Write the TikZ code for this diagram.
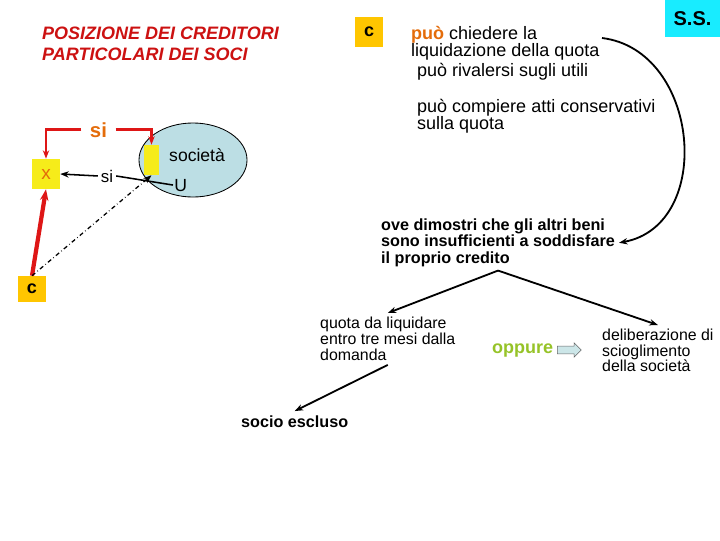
\documentclass[tikz,border=0pt]{standalone}
\usepackage{fontspec}
\setmainfont{Liberation Sans}
\usepackage{tikz}
\usetikzlibrary{positioning}
\usetikzlibrary{arrows.meta}
\usetikzlibrary{shapes.arrows}
\usepackage{xcolor}
\definecolor{titolo}{RGB}{204,17,17}
\definecolor{rosso}{RGB}{222,22,22}
\definecolor{arancio}{RGB}{228,108,10}
\definecolor{giallo}{RGB}{246,236,26}
\definecolor{oro}{RGB}{255,198,0}
\definecolor{ciano}{RGB}{24,236,255}
\definecolor{azzurro}{RGB}{188,222,228}
\definecolor{verde}{RGB}{150,195,40}
\definecolor{frecciaf}{RGB}{204,230,232}

\begin{document}
\begin{tikzpicture}[x=0.025cm, y=-0.025cm, >={Stealth[length=6pt]},
	scritta/.style={align=left, inner sep=0pt, outer sep=3pt, anchor=north west},
	riga/.style={inner sep=0pt, outer sep=3pt, anchor=base west},
	casella/.style={inner sep=0pt, font=\fontsize{12.8}{14}\selectfont\bfseries},
	]
			    		\useasboundingbox (0,0) rectangle (720,540);
			    		\node[scritta, text=titolo, font=\fontsize{12.8}{14.9}\selectfont\bfseries\itshape] (titolo) at (38,23) {POSIZIONE DEI CREDITORI\\PARTICOLARI DEI SOCI};
			    		\node[casella, fill=oro, minimum width=0.7cm, minimum height=0.75cm] (c1) at (369,32) {c};
			    		\node[casella, fill=ciano, minimum width=1.375cm, minimum height=0.925cm, font=\fontsize{14.2}{16}\selectfont\bfseries] (ss) at (692.5,18.5) {S.S.};
			    		\node[scritta, font=\fontsize{12.8}{12}\selectfont] (chiedere) at (407,22) {{\color{arancio}\bfseries può} chiedere la\\liquidazione della quota};
			    		\node[riga, font=\fontsize{12.8}{12}\selectfont] (rivalersi) at (413,76) {può rivalersi sugli utili};
			    		\node[scritta, font=\fontsize{12.8}{12}\selectfont] (compiere) at (413,95) {può compiere atti conservativi\\sulla quota};
			    		\coordinate (inizio) at (602,38);
			    		\node[scritta, font=\fontsize{11.5}{11.4}\selectfont\bfseries] (ove) at (377,215) {ove dimostri che gli altri beni\\sono insufficienti a soddisfare\\il proprio credito};
			    		\node[scritta, font=\fontsize{11.3}{11.3}\selectfont] (quota) at (316,313) {quota da liquidare\\entro tre mesi dalla\\domanda};
			    		\node[scritta, font=\fontsize{11.3}{11}\selectfont] (delib) at (598,325) {deliberazione di\\scioglimento\\della società};
			    		\node[riga, text=verde, font=\fontsize{12.8}{14}\selectfont\bfseries, outer sep=0pt] (oppure) at (492,353) {oppure};
			    		\node[single arrow, draw=black!60, fill=frecciaf, inner xsep=0pt, inner ysep=2.6pt, minimum height=0.6cm, single arrow head extend=0.08cm, right=0.1cm of oppure] (freccia) {};
			    		\node[riga, font=\fontsize{11.5}{14}\selectfont\bfseries] (socio) at (237,427) {socio escluso};
			    		\draw[black, ->, line width=1.3pt] (inizio) .. controls (700,50) and (715,225) .. (ove.east);
			    		\draw[black, ->, line width=1.3pt] (ove.south) -- (quota.north);
			    		\draw[black, ->, line width=1.3pt] (ove.south) -- (delib.north);
			    		\draw[black, ->, line width=1.3pt] (quota.south) -- (socio.north);
			    		\filldraw[fill=azzurro, draw=black, line width=0.6pt] (193,160) ellipse (1.35cm and 0.925cm);
			    		\node[fill=giallo, inner sep=0pt, minimum width=0.375cm, minimum height=0.75cm] (quotasoc) at (151.5,160) {};
			    		\node[riga, font=\fontsize{12.5}{14}\selectfont] (societa) at (165,161) {società};
			    		\node[riga, font=\fontsize{12.5}{14}\selectfont, outer sep=1pt] (U) at (173,191) {U};
			    		\node[fill=giallo, text=arancio, inner sep=0pt, minimum width=0.7cm, minimum height=0.75cm, font=\fontsize{13.5}{14}\selectfont] (X) at (46,174) {x};
			    		\node[casella, fill=oro, minimum width=0.7cm, minimum height=0.65cm] (c2) at (32,289) {c};
			    		\node[text=arancio, inner sep=6pt, anchor=base, font=\fontsize{14.5}{16}\selectfont\bfseries] (si1) at (98.5,137) {si};
			    		\node[inner sep=2pt, anchor=base, font=\fontsize{12}{14}\selectfont] (si2) at (107,182) {si};
			    		\draw[rosso, ->, line width=2pt] (si1.west) -| (X.north);
			    		\draw[rosso, ->, line width=2pt] (si1.east) -| (quotasoc.north);
			    		\draw[black, line width=1.1pt] (U.west) -- (si2.east);
			    		\draw[black, ->, line width=1.1pt] (si2.west) -- (X.east);
			    		\draw[rosso, -{Stealth[length=8pt]}, line width=3pt] (c2.north) -- (X.south);
			    		\draw[black, ->, dash dot, line width=0.9pt] (c2.north) -- (quotasoc.south);
			    	\end{tikzpicture}
\end{document}
